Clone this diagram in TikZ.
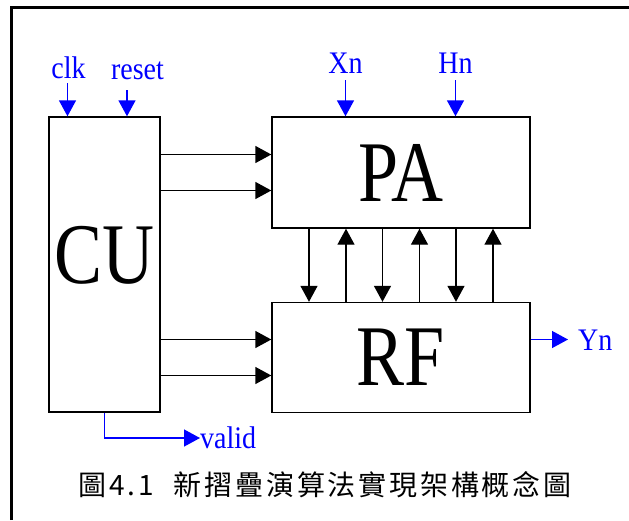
\documentclass[tikz,border=0pt]{standalone}
\usepackage{fontspec}
\usepackage{graphicx}
\usetikzlibrary{arrows.meta}
\setmainfont{Liberation Serif}
\newfontfamily\cjkfont[LetterSpace=10]{Noto Sans CJK TC}
\newcommand{\tallbox}[2][1.2]{\scalebox{1}[#1]{#2}}

\begin{document}
\begin{tikzpicture}[x=1pt, y=-1pt, >={Triangle[length=16pt,width=17pt]},
    blk/.style={draw, line width=1.4pt, inner sep=0pt, font=\fontsize{72}{72}\selectfont},
    bus/.style={->, line width=1.4pt},
    sig/.style={->, blue, line width=1.4pt},
    sigtxt/.style={blue, inner sep=0pt, font=\fontsize{28}{28}\selectfont}]
        \useasboundingbox (0,0) rectangle (629,520);
        \draw[line width=3pt] (11.5,520) |- (629,7);

        \node[blk, minimum width=111pt, minimum height=295pt] (cu) at (104.5,264.5) {};
        \node[inner sep=0pt, font=\fontsize{72}{72}\selectfont] (cutxt) at (104.5,255) {\tallbox{CU}};
        \node[blk, minimum width=258pt, minimum height=111pt] (pa) at (401,172.5) {\tallbox{PA}};
        \node[blk, minimum width=258pt, minimum height=110pt] (rf) at (401,357.5) {\tallbox{RF}};

        \node[sigtxt, anchor=base] (clk) at (68.5,78) {\tallbox[1.12]{clk}};
        \node[sigtxt, anchor=base] (reset) at (137.5,79) {\tallbox[1.12]{reset}};
        \node[sigtxt, anchor=base] (xn) at (345.5,73) {\tallbox[1.12]{Xn}};
        \node[sigtxt, anchor=base] (hn) at (455.5,73) {\tallbox[1.12]{Hn}};
        \node[sigtxt, anchor=base west] (yn) at (578,350) {\tallbox[1.12]{Yn}};
        \node[sigtxt, anchor=west] (valid) at (200,438) {\tallbox[1.12]{valid}};

        \draw[sig] ([xshift=-1pt,yshift=-5pt]clk.base) -- ([xshift=-1pt]clk.base |- cu.north);
        \draw[sig] ([xshift=-10.5pt,yshift=-11pt]reset.base) -- ([xshift=-10.5pt]reset.base |- cu.north);
        \draw[sig] ([yshift=-7pt]xn.base) -- (xn.base |- pa.north);
        \draw[sig] ([yshift=-7pt]hn.base) -- (hn.base |- pa.north);
        \draw[sig, shorten >=10pt] ([yshift=18pt]rf.east) -- ([yshift=18pt]rf.east -| yn.west);
        \draw[sig] (cu.south) |- (valid.west);

        \foreach \b in {pa,rf}
            \foreach \s in {-18,18}
                \draw[bus] ([yshift=\s pt]\b.west -| cu.east) -- ([yshift=\s pt]\b.west);

        \foreach \d in {-92,-18.5,55}
            \draw[bus] ([xshift=\d pt]pa.south) -- ([xshift=\d pt]pa.south |- rf.north);
        \foreach \d in {-55,18.5,92}
            \draw[bus] ([xshift=\d pt]rf.north) -- ([xshift=\d pt]rf.north |- pa.south);

        \node[font=\cjkfont\fontsize{28}{28}\selectfont] (caption) at (325,485) {圖4.1\hspace{20pt}新摺疊演算法實現架構概念圖};
    \end{tikzpicture}
\end{document}
